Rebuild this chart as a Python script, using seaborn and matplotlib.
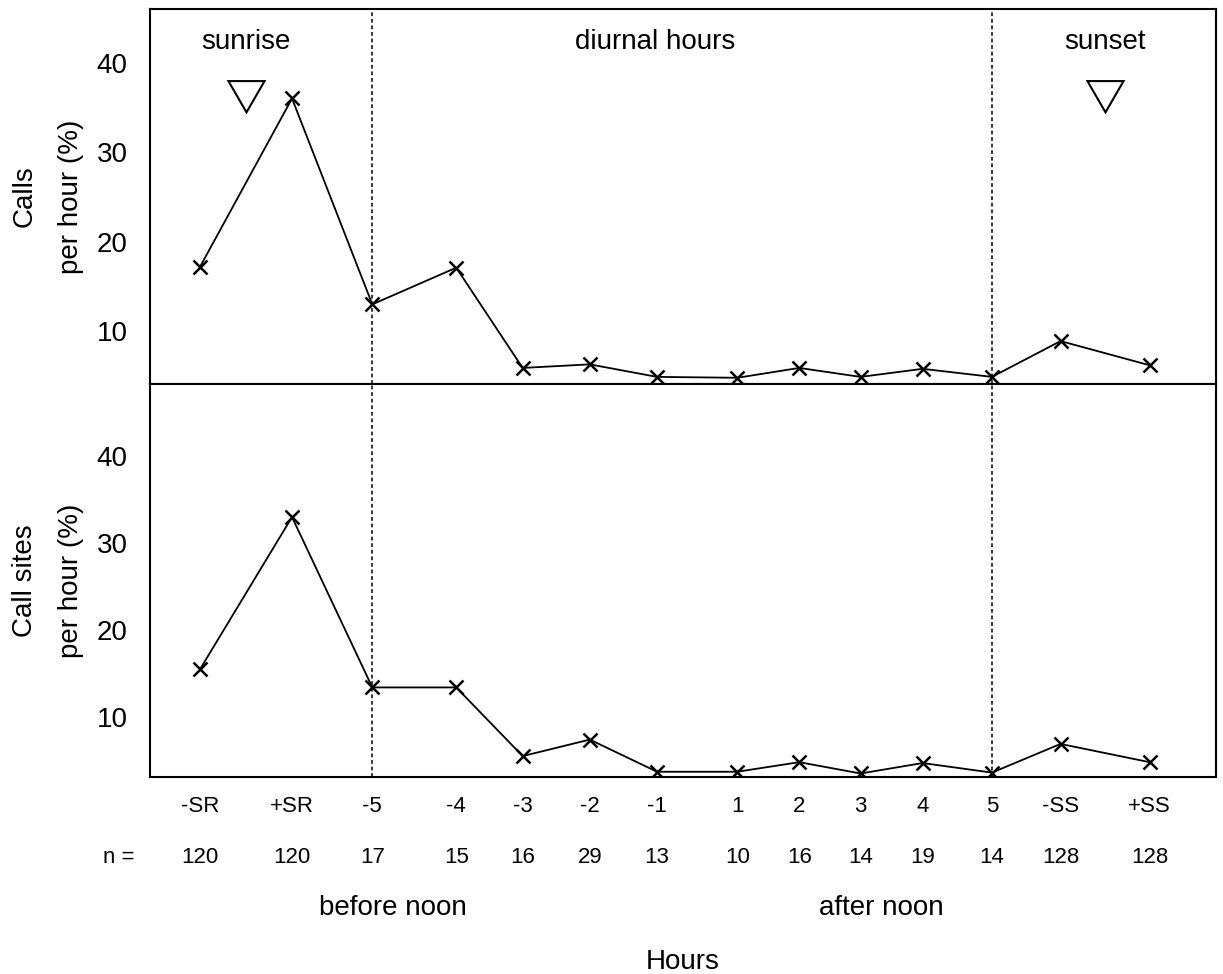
import matplotlib
matplotlib.use("Agg")
import matplotlib.pyplot as plt
import seaborn as sns
import pandas as pd

# ============ Data ============
hour_labels = ['-SR', '+SR', '-5', '-4', '-3', '-2', '-1', '1', '2', '3', '4', '5', '-SS', '+SS']
# slot positions along the hour axis (irregular spacing as in the figure)
slot_pos = [0.0, 1.26, 2.36, 3.51, 4.42, 5.34, 6.26, 7.36, 8.21, 9.05, 9.9, 10.85, 11.79, 13.01]
n_obs = [120, 120, 17, 15, 16, 29, 13, 10, 16, 14, 19, 14, 128, 128]
calls_pct = [17.2, 36.0, 13.0, 17.1, 5.9, 6.3, 4.9, 4.8, 5.9, 4.9, 5.8, 4.9, 8.9, 6.2]
sites_pct = [15.5, 33.0, 13.4, 13.4, 5.5, 7.4, 3.7, 3.7, 4.8, 3.5, 4.7, 3.6, 6.9, 4.8]

df = pd.DataFrame({'pos': slot_pos, 'calls': calls_pct, 'sites': sites_pct})

# ============ Style ============
sns.set_theme(style="white")
plt.rcParams['font.family'] = ['Liberation Sans', 'DejaVu Sans']
plt.rcParams['axes.edgecolor'] = 'black'
plt.rcParams['axes.linewidth'] = 1.5
plt.rcParams['text.color'] = 'black'
plt.rcParams['axes.labelcolor'] = 'black'
plt.rcParams['xtick.color'] = 'black'
plt.rcParams['ytick.color'] = 'black'

fig = plt.figure(figsize=(12.23, 9.74), dpi=100)
ax1 = fig.add_axes([0.1227, 0.6057, 0.8716, 0.3851])
ax2 = fig.add_axes([0.1227, 0.2023, 0.8716, 0.4034], sharex=ax1)

line_kw = dict(color='black', linewidth=1.3, marker='x', markersize=10,
               markeredgewidth=1.8, markeredgecolor='black')
sns.lineplot(data=df, x='pos', y='calls', ax=ax1, **line_kw)
sns.lineplot(data=df, x='pos', y='sites', ax=ax2, **line_kw)

ax1.set_ylim(4.1, 46)
ax2.set_ylim(3.1, 48.3)
ax1.set_xlim(-0.685, 13.92)

for ax in (ax1, ax2):
    ax.set_yticks([10, 20, 30, 40])
    ax.tick_params(axis='y', length=0, pad=16, labelsize=20)
    for x in (slot_pos[2], slot_pos[11]):
        ax.axvline(x, color='black', linestyle=(0, (2.5, 1.8)), linewidth=1.1)
    for s in ax.spines.values():
        s.set_visible(True)
        s.set_color('black')

ax1.set_ylabel('Calls\nper hour (%)', fontsize=20, linespacing=2.0)
ax2.set_ylabel('Call sites\nper hour (%)', fontsize=20, linespacing=2.0)
ax1.yaxis.set_label_coords(-0.062, 0.5)
ax2.yaxis.set_label_coords(-0.062, 0.5)

ax1.tick_params(axis='x', length=0, labelbottom=False)
ax1.set_xlabel('')
ax2.set_xticks(slot_pos)
ax2.set_xticklabels(hour_labels)
ax2.tick_params(axis='x', length=0, pad=14, labelsize=16)
ax2.set_xlabel('')

# ============ Annotations ============
sr_x = (slot_pos[0] + slot_pos[1]) / 2
ss_x = (slot_pos[12] + slot_pos[13]) / 2
tri = dict(marker=(3, 0, 180), markersize=30, markerfacecolor='white',
           markeredgecolor='black', markeredgewidth=1.5, linestyle='none', clip_on=False)
ax1.plot([sr_x], [0.78], transform=ax1.get_xaxis_transform(), **tri)
ax1.plot([ss_x], [0.78], transform=ax1.get_xaxis_transform(), **tri)

ax1.text(sr_x, 0.912, 'sunrise', transform=ax1.get_xaxis_transform(),
         ha='center', va='center', fontsize=20)
ax1.text(ss_x, 0.912, 'sunset', transform=ax1.get_xaxis_transform(),
         ha='center', va='center', fontsize=20)
ax1.text(6.23, 0.912, 'diurnal hours', transform=ax1.get_xaxis_transform(),
         ha='center', va='center', fontsize=20)

tr = ax2.get_xaxis_transform()
ax2.text(-1.12, -0.204, 'n =', transform=tr, ha='center', va='center', fontsize=16, clip_on=False)
for x, n in zip(slot_pos, n_obs):
    ax2.text(x, -0.204, str(n), transform=tr, ha='center', va='center', fontsize=16)

ax2.text(2.64, -0.333, 'before noon', transform=tr, ha='center', va='center', fontsize=20)
ax2.text(9.34, -0.333, 'after noon', transform=tr, ha='center', va='center', fontsize=20)
ax2.text(0.5, -0.471, 'Hours', transform=ax2.transAxes, ha='center', va='center', fontsize=20)

fig.savefig('out.png', dpi=100)
